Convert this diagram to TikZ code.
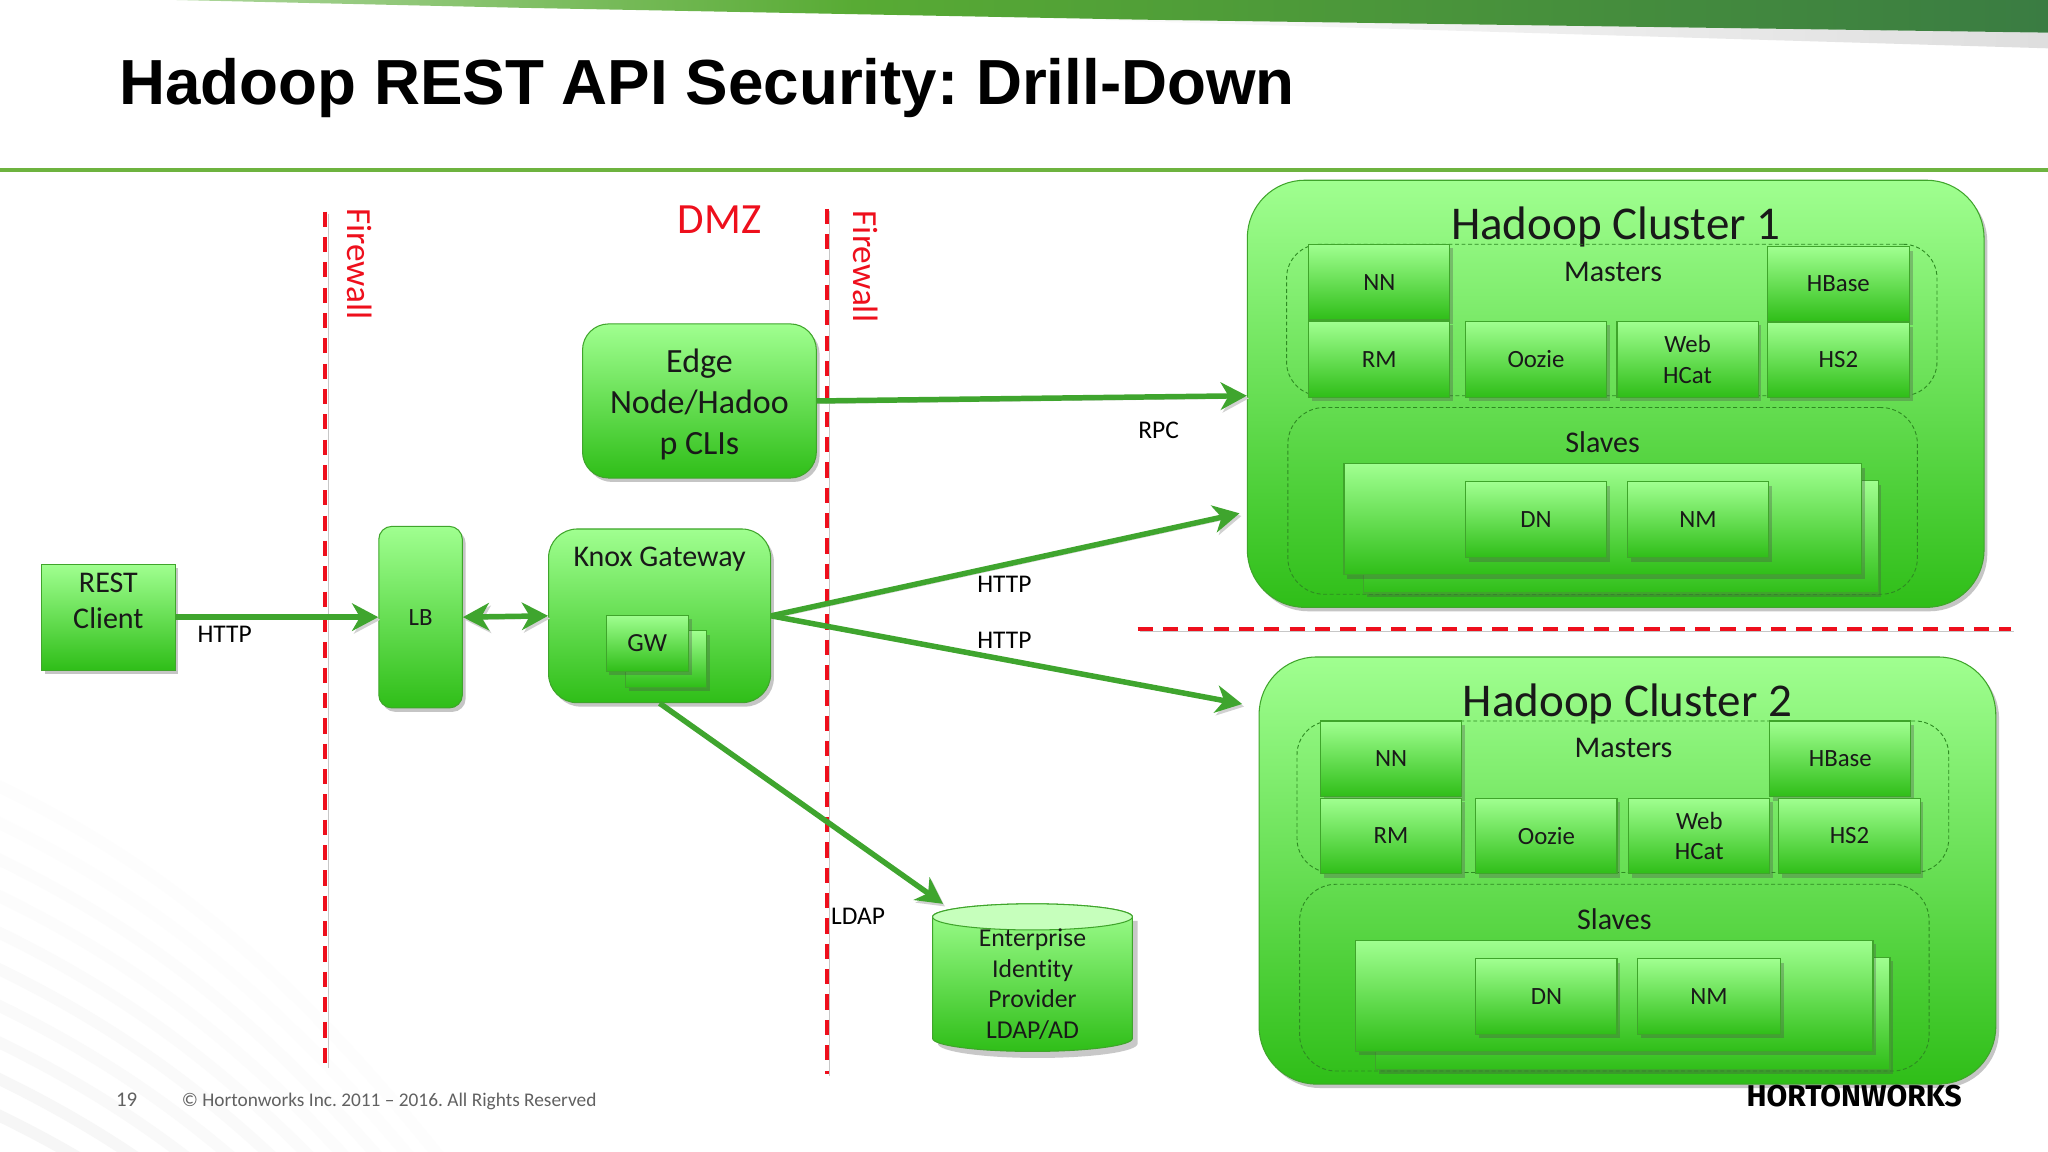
\documentclass[tikz,border=0pt]{standalone}
\usepackage{fontspec}
\setmainfont[Ligatures=NoCommon]{Carlito}
\newfontfamily\titlefont{Liberation Sans}
\newfontfamily\logofont{Fira Sans}
\usetikzlibrary{arrows.meta,shadows,shapes.geometric,calc}
\definecolor{gtop}{HTML}{A0FF90}
\definecolor{gbot}{HTML}{2FBE18}
\definecolor{gedge}{HTML}{3FA52B}
\definecolor{gdash}{HTML}{2E8B22}
\definecolor{garrow}{HTML}{3FA52E}
\definecolor{gline}{HTML}{6DB33F}
\definecolor{fwred}{HTML}{EE0F1C}
\definecolor{bandmid}{HTML}{58AB34}
\definecolor{bandend}{HTML}{3A7C42}
\pgfdeclarehorizontalshading{bandshade}{100bp}{color(0bp)=(white); color(25bp)=(white); color(36bp)=(bandmid!50!white); color(50bp)=(bandmid); color(75bp)=(bandend); color(100bp)=(bandend)}
\tikzset{
  x=1pt,y=-1pt,
  softshadow/.style={drop shadow={shadow xshift=2.5pt,shadow yshift=-3pt,opacity=.32,fill=black!70}},
  gbox/.style={draw=gedge,line width=.8pt,top color=gtop,bottom color=gbot,middle color=gtop!50!gbot,softshadow,inner sep=0pt,align=center,text=black!90},
  sq/.style={gbox,rounded corners=0pt,font=\fontsize{19}{23.5}\selectfont},
  rr/.style={gbox,rounded corners=#1},
  dashbox/.style={draw=gdash,line width=.7pt,dash pattern=on 3pt off 2pt,rounded corners=#1},
  flow/.style={draw=garrow,line width=4.2pt,-{Stealth[length=20pt,width=21pt,inset=6pt]},preaction={draw=black!18,transform canvas={xshift=1.5pt,yshift=-2pt}}},
  flowb/.style={draw=garrow,line width=4.2pt,{Stealth[length=20pt,width=21pt,inset=6pt]}-{Stealth[length=20pt,width=21pt,inset=6pt]},preaction={draw=black!18,transform canvas={xshift=1.5pt,yshift=-2pt}}},
  fw/.style={draw=fwred,line width=3.1pt,dash pattern=on 11.6pt off 7.8pt,preaction={draw=black!22,transform canvas={xshift=2pt,yshift=-1.5pt}}},
  fwtext/.style={text=fwred,font=\fontsize{27}{31}\selectfont},
  lab/.style={text=black,font=\fontsize{19.5}{23}\selectfont,inner sep=0pt},
  head/.style={text=black!90,inner sep=0pt},
}
\newcommand{\bx}[7][]{%
  \pgfmathsetmacro{\cxv}{(#3+#5)/2}\pgfmathsetmacro{\cyv}{(#4+#6)/2}%
  \pgfmathsetmacro{\wv}{#5-#3}\pgfmathsetmacro{\hv}{#6-#4}%
  \node[#1,minimum width=\wv pt,minimum height=\hv pt] (#2) at (\cxv,\cyv) {#7};}
\begin{document}
\frenchspacing
\begin{tikzpicture}
\useasboundingbox (0,0) rectangle (1568,882);
% page background
\fill[white] (0,0) rectangle (1568,882);
\begin{scope}
\clip (0,560) rectangle (460,882);
\foreach \s/\g in {600/0.6,628/0.8,656/1,684/1.2,712/1.5,740/1.8,768/2.1,796/2.5,824/3,852/3.5}{
  \draw[black!\g,line width=9pt] (-5,\s) .. controls (120,\s+60) and (220,\s+140) .. (340,\s+290);
}
\end{scope}
% top band
\path[left color=white,right color=black!13] (760,13) -- (1568,25) -- (1568,37) -- cycle;
\path[shading=bandshade] (-260,0) -- (1568,0) -- (1568,25) -- (870,15) -- (400,6) -- (135,0) -- cycle;
\fill[white] (-260,-2) rectangle (0,2);
% title
\node[anchor=base west,inner sep=0pt,font=\titlefont\bfseries\fontsize{48.8}{58}\selectfont,text=black] (title) at (91,80) {Hadoop REST API Security: Drill-Down};
\draw[gline,line width=3pt] (0,130) -- (1568,130);
% cluster 1
\bx[rr=44pt]{cone}{955}{138}{1519}{465}{}
\node[head,font=\fontsize{36}{42}\selectfont] (conet) at (1237,174) {Hadoop Cluster 1};
\bx[dashbox=26pt]{mone}{985}{187}{1483}{303}{}
\bx[dashbox=28pt]{sone}{986}{312}{1468}{455}{}
\node[head,font=\fontsize{23}{27}\selectfont] (monet) at (1235,208) {Masters};
\node[head,font=\fontsize{23}{27}\selectfont] (sonet) at (1227,338.5) {Slaves};
\bx[sq]{nnone}{1002}{187}{1110}{245}{NN}
\bx[sq]{rmone}{1002}{246}{1110}{304}{RM}
\bx[sq]{oozone}{1122}{246}{1230}{304}{Oozie}
\bx[sq]{webone}{1238}{246}{1346}{304}{Web\\HCat}
\bx[sq]{hbone}{1353}{189}{1462}{246}{HBase}
\bx[sq]{hsone}{1353}{247}{1462}{304}{HS2}
\bx[sq]{bkone}{1044}{368}{1438}{454}{}
\bx[sq]{frone}{1029}{355}{1425}{440}{}
\bx[sq]{dnone}{1122}{369}{1230}{427}{DN}
\bx[sq]{nmone}{1246}{369}{1354}{427}{NM}
% cluster 2
\bx[rr=44pt]{ctwo}{964}{503}{1528}{830}{}
\node[head,font=\fontsize{36}{42}\selectfont] (ctwot) at (1246,539) {Hadoop Cluster 2};
\bx[dashbox=26pt]{mtwo}{993}{552}{1492}{668}{}
\bx[dashbox=28pt]{stwo}{995}{677}{1477}{820}{}
\node[head,font=\fontsize{23}{27}\selectfont] (mtwot) at (1243,573) {Masters};
\node[head,font=\fontsize{23}{27}\selectfont] (stwot) at (1236,703.5) {Slaves};
\bx[sq]{nntwo}{1011}{552}{1119}{610}{NN}
\bx[sq]{rmtwo}{1011}{611}{1119}{669}{RM}
\bx[sq]{ooztwo}{1130}{611}{1238}{669}{Oozie}
\bx[sq]{webtwo}{1247}{611}{1355}{669}{Web\\HCat}
\bx[sq]{hbtwo}{1355}{552}{1463}{610}{HBase}
\bx[sq]{hstwo}{1362}{611}{1470}{669}{HS2}
\bx[sq]{bktwo}{1053}{733}{1447}{819}{}
\bx[sq]{frtwo}{1038}{720}{1434}{805}{}
\bx[sq]{dntwo}{1130}{734}{1238}{792}{DN}
\bx[sq]{nmtwo}{1254}{734}{1363}{792}{NM}
% firewalls
\coordinate (fwat) at (249,162); \coordinate (fwab) at (249,816);
\coordinate (fwbt) at (633,160); \coordinate (fwbb) at (633,822);
\coordinate (fwcl) at (871,481.5); \coordinate (fwcr) at (1540,481.5);
\draw[fw] (fwat) -- (fwab);
\draw[fw] (fwbt) -- (fwbb);
\draw[fw] (fwcl) -- (fwcr);
\node[fwtext,rotate=-90] (fwla) at (275.5,202) {Firewall};
\node[fwtext,rotate=-90] (fwlb) at (662.5,204) {Firewall};
\node[text=fwred,font=\fontsize{33}{37}\selectfont] (dmz) at (551,168) {DMZ};
% left-side nodes
\bx[sq]{rest}{32}{432}{134}{513}{}
\node[head,align=center,font=\fontsize{23}{27.5}\selectfont] (restt) at (83,460) {REST\\Client};
\bx[rr=10pt,font=\fontsize{19}{23}\selectfont]{lb}{290}{403}{354}{542}{LB}
\bx[rr=22pt]{knox}{420}{405}{590}{538}{}
\node[head,font=\fontsize{23}{27}\selectfont] (knoxt) at (505,428) {Knox Gateway};
\bx[sq]{gwb}{479}{483}{541}{526}{}
\bx[sq,font=\fontsize{20}{24}\selectfont]{gw}{464}{471}{527}{514}{GW}
\bx[rr=20pt,font=\fontsize{26}{31.5}\selectfont,text depth=0pt]{edge}{446}{248}{625}{366}{}
\node[head,align=center,font=\fontsize{26}{31.5}\selectfont] (edget) at (535.5,309.5) {Edge\\Node/Hadoo\\p CLIs};
% identity provider
\fill[black!70,opacity=.3] (718,705) -- (871,705) -- (871,799) arc[x radius=76.5,y radius=11,start angle=0,end angle=180] -- cycle;
\path[draw=gedge,line width=.8pt,top color=gtop,bottom color=gbot,middle color=gtop!50!gbot] (714,702) -- (714,795) arc[x radius=76.5,y radius=10,start angle=180,end angle=0] -- (867,702) arc[x radius=76.5,y radius=10,start angle=0,end angle=-180] -- cycle;
\path[draw=gedge,line width=.8pt,fill=gtop!60!white] (790.5,702) ellipse[x radius=76.5,y radius=10];
\node[inner sep=0pt,align=center,text=black!90,font=\fontsize{19.7}{23.5}\selectfont,minimum width=153pt] (idp) at (790.5,753.5) {Enterprise\\Identity\\Provider\\LDAP/AD};
% connectors
\coordinate (conein) at (949,393);
\coordinate (ctwoin) at (951,539);
\coordinate (idpin) at (722,692);
\draw[flow] (rest.east) -- (lb.west);
\draw[flowb] (lb.east) -- (knox.west);
\draw[flow] (edge.east) -- (cone.west |- 0,303);
\draw[flow] (knox.east) -- (conein);
\draw[flow] (knox.east) -- (ctwoin);
\draw[flow] (knox.south) -- (idpin);
% connector labels
\node[lab] (lhttpa) at (172,485.5) {HTTP};
\node[lab] (lrpc) at (887,329.5) {RPC};
\node[lab] (lhttpb) at (769,447.5) {HTTP};
\node[lab] (lhttpc) at (769,490.5) {HTTP};
\node[lab] (lldap) at (657,701.5) {LDAP};
% footer
\node[inner sep=0pt,text=black!62,font=\fontsize{16}{18}\selectfont] (pg) at (97,842) {19};
\node[anchor=west,inner sep=0pt,text=black!62,font=\fontsize{14.8}{18}\selectfont] (copy) at (139,843) {© Hortonworks Inc. 2011 – 2016. All Rights Reserved};
\node[anchor=west,inner sep=0pt,text=black,font=\logofont\bfseries\fontsize{23}{26}\selectfont] (logo) at (1337,839) {HORTONWORKS};
\end{tikzpicture}
\end{document}
